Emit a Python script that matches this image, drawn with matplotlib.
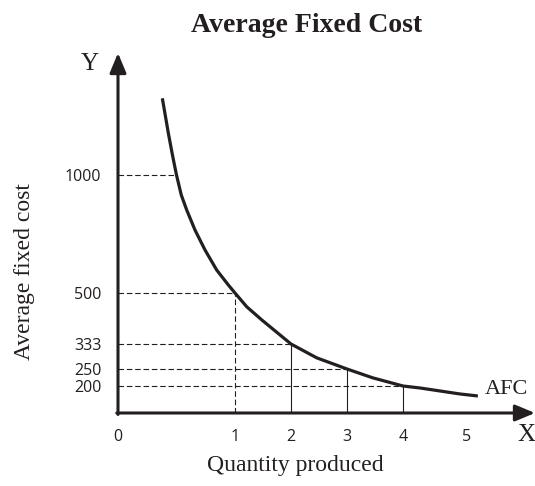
import numpy as np
import matplotlib.pyplot as plt

W, H = 535, 486
INK = "#231f20"
SERIF = "Liberation Serif"
SANS = "Open Sans"

# tick labels
x_ticks = [0, 1, 2, 3, 4, 5]
y_ticks = [200, 250, 333, 500, 1000]

# marked points on the AFC curve (quantity, cost)
quantity = [0.5, 1, 2, 3, 4]
afc = [1000, 500, 333, 250, 200]

# AFC curve as drawn in the textbook figure
curve_q = [0.379, 0.430, 0.468, 0.5, 0.541, 0.587, 0.658, 0.744, 0.844,
           0.943, 1.0, 1.209, 1.477, 2.0, 2.46, 3.0, 3.46, 4.0, 4.27,
           4.58, 4.89, 5.17]
curve_afc = [1325, 1178, 1078, 1000, 915, 852, 767, 682, 597,
             534, 500, 455, 412, 333, 287, 250, 224, 200, 185,
             163, 141, 126]

# the drawing is not to scale: value -> pixel distance from the origin
x_map_val = [0, 1, 2, 3, 4, 5, 7]
x_map_px = [0, 117, 173, 229, 285, 349, 477]
y_map_val = [0, 200, 250, 333, 500, 1000, 2000]
y_map_px = [0, 27, 44, 69, 120, 238, 474]


def x_fwd(v):
    return np.interp(v, x_map_val, x_map_px)


def x_inv(p):
    return np.interp(p, x_map_px, x_map_val)


def y_fwd(v):
    return np.interp(v, y_map_val, y_map_px)


def y_inv(p):
    return np.interp(p, y_map_px, y_map_val)


# origin of the axes and extent of the arrows, in pixels
x0, y0 = 118, 413
x_end, y_end = 535, 53

fig = plt.figure(figsize=(W / 100, H / 100), dpi=100)
ax = fig.add_axes([x0 / W, (H - y0) / H, (x_end - x0) / W, (y0 - y_end) / H])
ax.set_xscale("function", functions=(x_fwd, x_inv))
ax.set_yscale("function", functions=(y_fwd, y_inv))
ax.set_xlim(0, x_inv(x_end - x0))
ax.set_ylim(0, y_inv(y0 - y_end))
for s in ax.spines.values():
    s.set_visible(False)

# axes with arrow heads
arrow = dict(arrowstyle="-|>,head_length=0.6,head_width=0.25", lw=2.2,
             color=INK, shrinkA=0, shrinkB=0, mutation_scale=20)
ax.annotate("", xy=(1, 0), xytext=(-0.003, 0), xycoords="axes fraction",
            arrowprops=arrow, annotation_clip=False)
ax.annotate("", xy=(0, 1), xytext=(0, -0.004), xycoords="axes fraction",
            arrowprops=arrow, annotation_clip=False)

# guide lines
for q, c in zip(quantity, afc):
    ax.plot([0, q], [c, c], color=INK, lw=0.8, ls=(0, (5, 2.5)))
    if q == 1:
        ax.plot([q, q], [0, c], color=INK, lw=0.8, ls=(0, (5, 2.5)))
    elif q > 1:
        ax.plot([q, q], [0, c], color=INK, lw=0.8)

ax.plot(curve_q, curve_afc, color=INK, lw=2.3, solid_capstyle="butt",
        solid_joinstyle="round", clip_on=False)

ax.set_xticks(x_ticks)
ax.set_xticklabels([str(t) for t in x_ticks], fontfamily=SANS, fontsize=11.5)
ax.set_yticks(y_ticks)
ax.set_yticklabels([str(t) for t in y_ticks], fontfamily=SANS, fontsize=11.5)
ax.tick_params(length=0, colors=INK)
ax.tick_params(axis="x", pad=11.5)
ax.tick_params(axis="y", pad=12)
ax.minorticks_off()

fig.text(307 / W, 1 - 25 / H, "Average Fixed Cost", ha="center", va="center",
         fontfamily=SERIF, fontweight="bold", fontsize=20, color=INK)
fig.text(90 / W, 1 - 64 / H, "Y", ha="center", va="center",
         fontfamily=SERIF, fontsize=18, color=INK)
fig.text(526 / W, 1 - 435 / H, "X", ha="center", va="center",
         fontfamily=SERIF, fontsize=18, color=INK)
fig.text(485 / W, 1 - 389 / H, "AFC", ha="left", va="center",
         fontfamily=SERIF, fontsize=16, color=INK)
fig.text(25 / W, 1 - 272 / H, "Average fixed cost", ha="center", va="center",
         rotation=90, fontfamily=SERIF, fontsize=17, color=INK)
fig.text(295 / W, 1 - 465 / H, "Quantity produced", ha="center", va="center",
         fontfamily=SERIF, fontsize=17, color=INK)

fig.savefig("out.png", dpi=100)
